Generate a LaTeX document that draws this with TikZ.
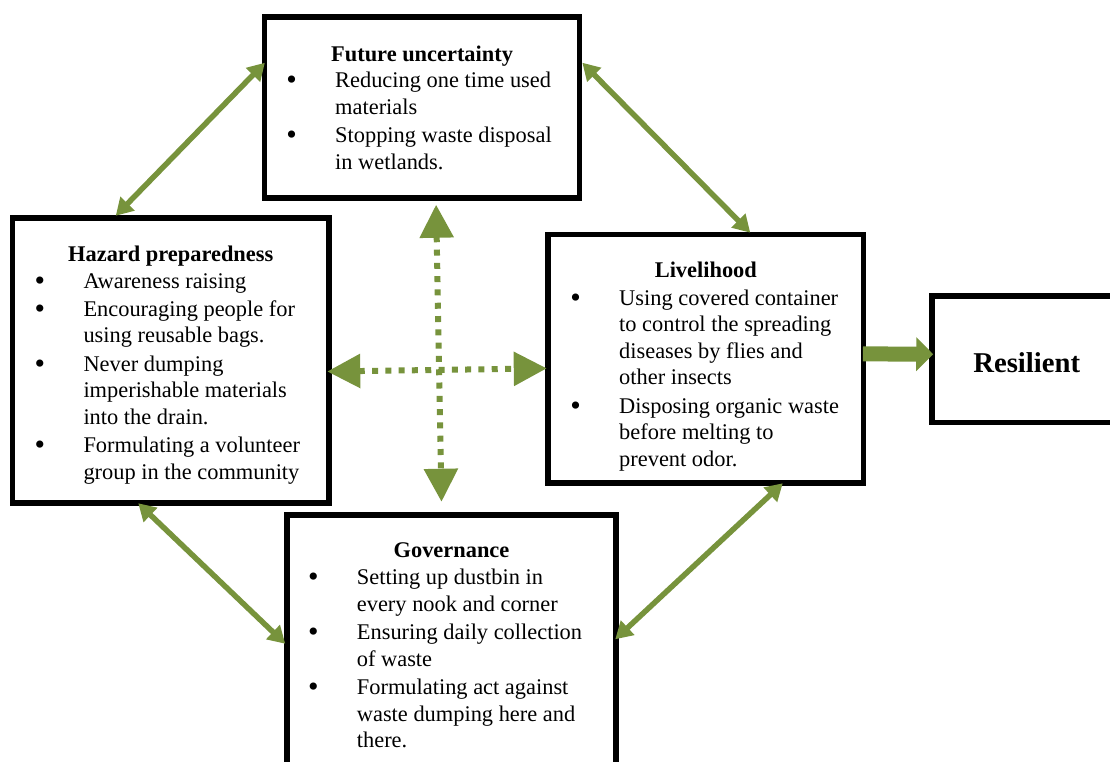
\documentclass[tikz,border=0pt]{standalone}
\usepackage{fontspec}
\setmainfont{Liberation Serif}
\usetikzlibrary{arrows.meta}
\definecolor{leaf}{RGB}{119,147,60}
% bullet hung 43.5pt to the left of the item text
\newcommand\bul{\llap{\makebox[0pt][c]{\raisebox{-2pt}{\fontsize{30}{30}\selectfont\textbullet}}\hspace{43.5pt}}}
\begin{document}
\begin{tikzpicture}[x=1pt,y=-1pt,
  panel/.style={draw=black, line width=5.5pt, fill=white, inner sep=0pt},
  heading/.style={anchor=base, inner sep=0pt, font=\fontsize{22.4}{26.5}\selectfont\bfseries},
  items/.style={anchor=base west, align=left, inner sep=0pt, font=\fontsize{22.4}{26.5}\selectfont},
  link/.style={draw=leaf, line width=5.5pt, {Triangle[length=17pt,width=19pt]}-{Triangle[length=17pt,width=19pt]}},
  cross/.style={draw=leaf, line width=6pt, dash pattern=on 6pt off 7.3pt, {Triangle[length=33pt,width=33pt]}-{Triangle[length=33pt,width=33pt]}},
  push/.style={draw=leaf, line width=15pt, -{Triangle[length=17pt,width=33pt]}}
]
\useasboundingbox (0,0) rectangle (1110,761);
\clip (0,0) rectangle (1110,761);

% frames
\node[panel, minimum width=315pt, minimum height=181pt] (fu) at (422.1,107.5) {};
\node[panel, minimum width=316.5pt, minimum height=285pt] (hz) at (170.75,360.5) {};
\node[panel, minimum width=315.7pt, minimum height=248.3pt] (lv) at (705.85,358.85) {};
\node[panel, minimum width=329pt, minimum height=275pt] (gv) at (451.5,652.5) {};
\node[panel, minimum width=208pt, minimum height=126.5pt] (rs) at (1036,359.25) {};

% Future uncertainty (lists are anchored at the baseline of their last line)
\node[heading] (fut) at (422.1,61) {Future uncertainty};
\node[items] (ful) at (335,169) {\bul Reducing one time used\\ materials\\[2pt]
  \bul Stopping waste disposal\\ in wetlands.};

% Hazard preparedness
\node[heading] (hzt) at (170.75,261) {Hazard preparedness};
\node[items] (hzl) at (83.3,479) {\bul Awareness raising\\[1pt]
  \bul Encouraging people for\\ using reusable bags.\\[2pt]
  \bul Never dumping\\ imperishable materials\\ into the drain.\\[2pt]
  \bul Formulating a volunteer\\ group in the community};

% Livelihood
\node[heading] (lvt) at (705.85,277.5) {Livelihood};
\node[items] (lvl) at (619,466) {\bul Using covered container\\ to control the spreading\\
  diseases by flies and\\ other insects\\[2pt]
  \bul Disposing organic waste\\ before melting to\\ prevent odor.};

% Governance
\node[heading] (gvt) at (451.5,557.5) {Governance};
\node[items] (gvl) at (356.7,747.5) {\bul Setting up dustbin in\\ every nook and corner\\[2pt]
  \bul Ensuring daily collection\\ of waste\\[2pt]
  \bul Formulating act against\\ waste dumping here and\\ there.};

% Resilient
\node[font=\fontsize{28.7}{34}\selectfont\bfseries, inner sep=0pt] (rst) at (1026.7,362.3) {Resilient};

% two-way links between neighbouring frames
\draw[link] ([shift={(3,48.5)}]fu.north west) -- ([shift={(106,0.5)}]hz.north west);
\draw[link] ([shift={(0,48.5)}]fu.north east) -- ([shift={(205,0.7)}]lv.north west);
\draw[link] ([shift={(128.5,-2.5)}]hz.south west) -- ([shift={(1,131.5)}]gv.north west);
\draw[link] ([shift={(237.5,-2.5)}]lv.south west) -- ([shift={(-3.5,127)}]gv.north east);

% dotted cross in the middle
\draw[cross] ([shift={(14,4)}]fu.south) -- ([shift={(-10,-10.5)}]gv.north);
\draw[cross] ([shift={(-4.5,11)}]hz.east) -- ([shift={(1.5,9.5)}]lv.west);

% outcome arrow
\draw[push] ([shift={(-3.5,-5)}]lv.east) -- ([shift={(4,-5)}]rs.west);
\end{tikzpicture}
\end{document}
